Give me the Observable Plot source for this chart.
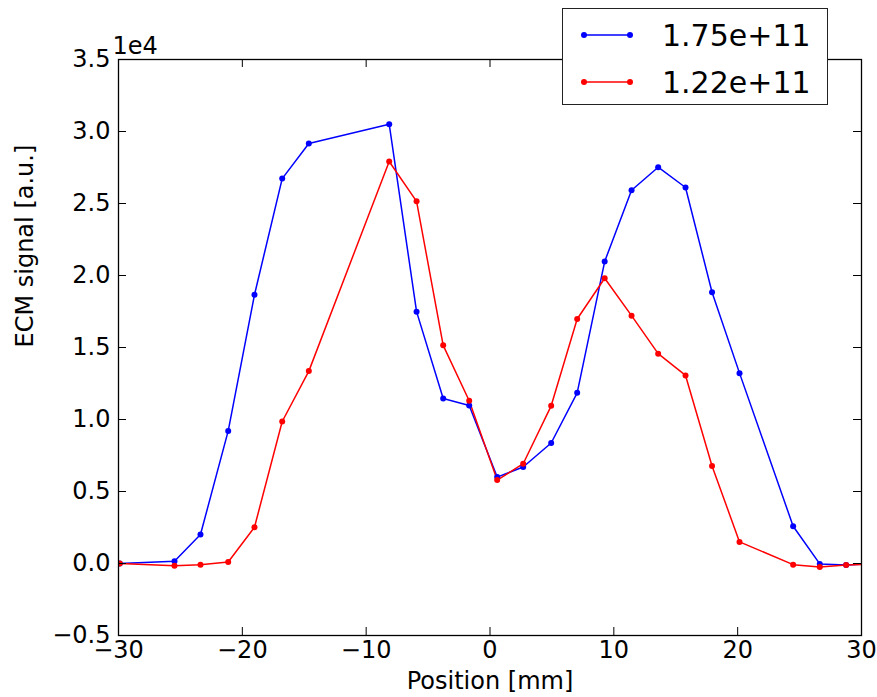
<!DOCTYPE html>
<html>
<head>
<meta charset="utf-8">
<script src="https://cdn.jsdelivr.net/npm/d3@7"></script>
<script src="https://cdn.jsdelivr.net/npm/@observablehq/plot@0.6"></script>
<style>
  html, body { margin: 0; padding: 0; background: white; }
  #wrap { position: relative; width: 877px; height: 697px; font-family: "DejaVu Sans", sans-serif; }
  #legend { position: absolute; left: 562px; top: 8px; width: 264px; height: 95px;
            background: white; border: 1.5px solid #222; }
</style>
</head>
<body>
<div id="wrap"></div>
<script>
// ---- data (signal values in a.u.; axis shows them ×1e4) ----
const positions = [-29.9, -25.48, -23.38, -21.14, -19.02, -16.78, -14.63, -8.14, -5.93, -3.78, -1.68, 0.58, 2.68, 4.94, 7.04, 9.26, 11.43, 13.58, 15.79, 17.93, 20.15, 24.48, 26.63, 28.76, 30.9];
const blueValues = [0, 150, 2010, 9210, 18660, 26730, 29170, 30510, 17490, 11460, 10970, 6000, 6700, 8370, 11850, 20970, 25920, 27520, 26110, 18840, 13220, 2590, -30, -100, 0];
const redValues = [0, -150, -80, 100, 2520, 9860, 13360, 27920, 25150, 15150, 11300, 5790, 6930, 10950, 16980, 19810, 17210, 14570, 13060, 6770, 1500, -80, -240, -100, -50];
const seriesNames = ["1.75e+11", "1.22e+11"];
const seriesColors = ["#0000ff", "#ff0000"];
const xTicks = [-30, -20, -10, 0, 10, 20, 30];
const yTicks = [-5000, 0, 5000, 10000, 15000, 20000, 25000, 30000, 35000];
const xLabel = "Position [mm]";
const yLabel = "ECM signal [a.u.]";
const yMultiplier = "1e4";

const seriesValues = [blueValues, redValues];
const data = [];
seriesNames.forEach((name, i) => {
  positions.forEach((p, j) => data.push({series: name, x: p, y: seriesValues[i][j]}));
});

const W = 877, H = 697, mL = 118, mR = 16, mT = 59, mB = 62;
const innerW = W - mL - mR, innerH = H - mT - mB;
const tickLen = 8;

const chart = Plot.plot({
  width: W, height: H,
  marginLeft: mL, marginRight: mR, marginTop: mT, marginBottom: mB,
  style: {fontFamily: "DejaVu Sans", fontSize: "24px", background: "white", color: "black"},
  x: {domain: [-30, 30]},
  y: {domain: [-5000, 35000]},
  color: {domain: seriesNames, range: seriesColors},
  marks: [
    Plot.lineY(data, {x: "x", y: "y", z: "series", stroke: "series", strokeWidth: 1.5, clip: true}),
    Plot.dot(data, {x: "x", y: "y", fill: "series", r: 3, clip: true}),
    Plot.frame({stroke: "black", strokeWidth: 1.3}),
    Plot.tickX(xTicks, {x: d => d, insetTop: innerH - tickLen, stroke: "black"}),
    Plot.tickX(xTicks, {x: d => d, insetBottom: innerH - tickLen, stroke: "black"}),
    Plot.tickY(yTicks, {y: d => d, insetRight: innerW - tickLen, stroke: "black"}),
    Plot.tickY(yTicks, {y: d => d, insetLeft: innerW - tickLen, stroke: "black"}),
    Plot.axisX(xTicks, {tickSize: 0, tickPadding: 5, fontSize: 24, tickFormat: d3.format("d"), label: null}),
    Plot.axisY(yTicks, {tickSize: 0, tickPadding: 8, fontSize: 24, tickFormat: d => d3.format(".1f")(d / 1e4), label: null}),
    Plot.text([xLabel], {frameAnchor: "bottom", text: d => d, dy: 46, lineAnchor: "middle", fontSize: 24}),
    Plot.text([yLabel], {frameAnchor: "left", text: d => d, dx: -93, rotate: -90, lineAnchor: "middle", fontSize: 24}),
    Plot.text([yMultiplier], {frameAnchor: "top-left", text: d => d, dx: -6, dy: -6,
      textAnchor: "start", lineAnchor: "bottom", fontSize: 24})
  ]
});

const wrap = document.getElementById("wrap");
wrap.appendChild(chart);

// legend (overlapping the top-right of the plot, as in the reference)
const legend = d3.select(wrap).append("div").attr("id", "legend");
const lsvg = legend.append("svg").attr("width", 264).attr("height", 95);
seriesNames.forEach((name, i) => {
  const cy = 26 + i * 47;
  lsvg.append("line").attr("x1", 21).attr("x2", 67).attr("y1", cy).attr("y2", cy)
    .attr("stroke", seriesColors[i]).attr("stroke-width", 1.5);
  [21, 67].forEach(cx => lsvg.append("circle").attr("cx", cx).attr("cy", cy).attr("r", 3).attr("fill", seriesColors[i]));
  lsvg.append("text").attr("x", 99).attr("y", cy).attr("dy", "0.36em")
    .attr("font-family", "DejaVu Sans").attr("font-size", 30).attr("fill", "black").text(name);
});
</script>
</body>
</html>
